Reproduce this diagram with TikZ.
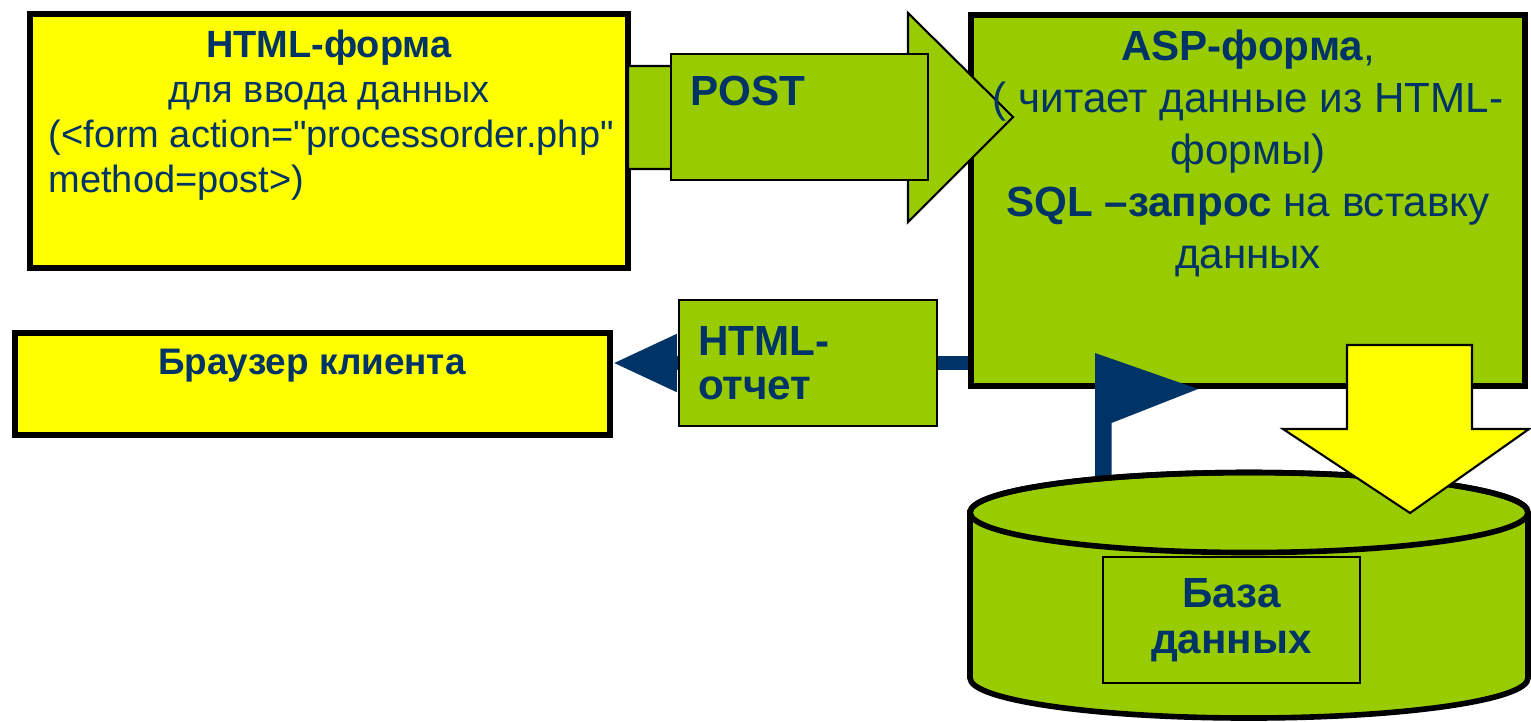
\documentclass[tikz,border=0pt]{standalone}
\usepackage{fontspec}
\setmainfont{Liberation Sans}[Ligatures=TeXOff]
\usepackage{tikz}
\usetikzlibrary{arrows.meta}
\definecolor{boxyellow}{HTML}{FFFF00}
\definecolor{boxgreen}{HTML}{99CC00}
\definecolor{inknavy}{HTML}{003366}
\newcommand{\formsize}{\fontsize{10.8}{12.8}\selectfont}
\newcommand{\aspsize}{\fontsize{12}{14.8}\selectfont}
\newcommand{\tagsize}{\fontsize{12}{12.5}\selectfont}
\newcommand{\dbsize}{\fontsize{12}{13}\selectfont}
\newcommand{\brsize}{\fontsize{10.5}{12}\selectfont}

\begin{document}
\begin{tikzpicture}[
	bigbox/.style={draw=black, line width=1.6pt, inner sep=0pt},
	smallbox/.style={draw=black, line width=0.6pt},
	navytxt/.style={text=inknavy, inner sep=0pt},
	reply/.style={draw=inknavy, line width=4pt},
	bigarrow/.style={draw=black, line width=0.6pt}
]
	\useasboundingbox (0,0) rectangle (15.31,-7.21);

	\node[bigbox, fill=boxyellow, minimum width=5.98cm, minimum height=2.54cm] (form) at (3.29,-1.41) {};
	\node[navytxt, font=\formsize, align=center, anchor=north] (formhead) at (3.29,-0.29) {\textbf{HTML-форма}\\для ввода данных};
	\node[navytxt, font=\formsize, align=left, anchor=north west] (formcode) at (0.48,-1.19) {(<form action="processorder.php"\\method=post>)};

	\node[bigbox, fill=boxyellow, minimum width=5.95cm, minimum height=1.02cm] (browser) at (3.125,-3.84) {};
	\node[navytxt, font=\brsize\bfseries] (browsertxt) at (3.12,-3.66) {Браузер клиента};

	\node[bigbox, fill=boxgreen, minimum width=5.54cm, minimum height=3.71cm] (asp) at (12.48,-2.005) {};

	\node[smallbox, fill=boxgreen, minimum width=2.58cm, minimum height=1.26cm, text width=2.2cm, inner xsep=0.19cm, align=left, text=inknavy, font=\tagsize\bfseries] (report) at (8.08,-3.63) {HTML-\\отчет};

	\draw[reply] (asp.west |- report.east) -- (report.east);
	\draw[reply, -{Triangle[length=0.64cm,width=0.54cm]}] (report.west) -- (browser.east |- report.west);

	\coordinate (flagfoot) at (10.95,-4.82);
	\fill[inknavy] (flagfoot) -- ++(0,1.29) -- ++(1.03,-0.36) -- ++(-0.865,-0.34) -- ++(0,-0.59) -- cycle;

	\filldraw[fill=boxgreen, draw=black, line width=1.6pt] (9.70,-5.125) -- (9.70,-6.78) arc[start angle=180, end angle=360, x radius=2.79, y radius=0.40] -- (15.28,-5.125) arc[start angle=0, end angle=180, x radius=2.79, y radius=0.40] -- cycle;
	\draw[line width=1.6pt] (12.49,-5.125) ellipse [x radius=2.79, y radius=0.40];

	\node[smallbox, fill=boxgreen, minimum width=2.57cm, minimum height=1.26cm, align=center, text=inknavy, font=\dbsize\bfseries] (db) at (12.315,-6.20) {База\\данных};

	\filldraw[bigarrow, fill=boxyellow] (13.47,-3.45) -- (14.72,-3.45) -- (14.72,-4.29) -- (15.29,-4.29) -- (14.10,-5.13) -- (12.83,-4.29) -- (13.47,-4.29) -- cycle;

	\filldraw[bigarrow, fill=boxgreen] (6.28,-0.66) -- (9.08,-0.66) -- (9.08,-0.13) -- (10.13,-1.17) -- (9.08,-2.22) -- (9.08,-1.69) -- (6.28,-1.69) -- cycle;
	\node[smallbox, fill=boxgreen, minimum width=2.57cm, minimum height=1.26cm] (post) at (7.995,-1.17) {};
	\node[navytxt, font=\aspsize\bfseries, anchor=base west] (posttxt) at (6.90,-1.05) {POST};

	\node[navytxt, font=\aspsize, align=center, anchor=north] (asptxt) at (12.48,-0.29) {\textbf{ASP-форма},\\( читает данные из HTML-\\формы)\\\textbf{SQL –запрос} на вставку\\данных};

\end{tikzpicture}
\end{document}
